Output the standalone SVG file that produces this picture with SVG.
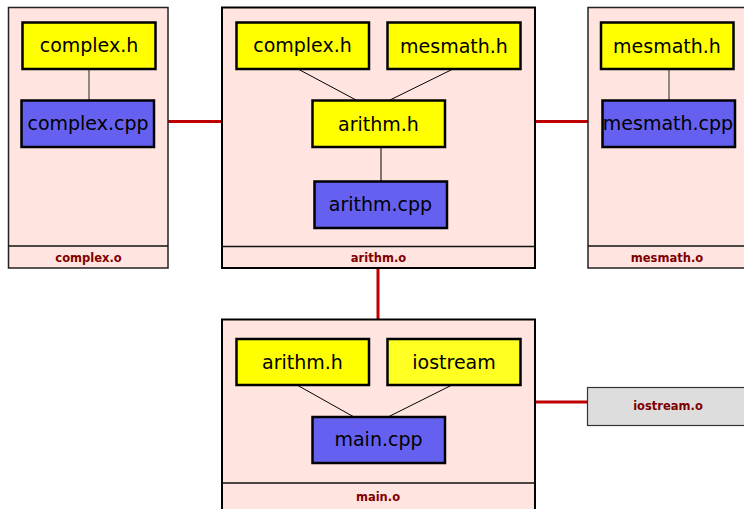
<svg xmlns="http://www.w3.org/2000/svg" width="744" height="509" viewBox="0 0 744 509">
<style>
.cl{fill:#ffe4e0;stroke:#222;stroke-width:1.5}
.clb{fill:#ffe4e0;stroke:#000;stroke-width:2}
.dv{stroke:#111;stroke-width:1.5}
.h{fill:#ffff00;stroke:#000;stroke-width:2.5}
.ios{fill:#ffff22;stroke:#000;stroke-width:2.5}
.cpp{fill:#6660f0;stroke:#000;stroke-width:2.5}
.t{font-family:"DejaVu Sans",sans-serif;font-size:19px;fill:#000;text-anchor:middle}
.lb{font-family:"DejaVu Sans",sans-serif;font-weight:bold;font-size:11.5px;fill:#800000;text-anchor:middle}
.e{stroke:#000;stroke-width:1;fill:none}
.eg{stroke:#555;stroke-width:1.3;fill:none}
.r{stroke:#c00000;stroke-width:3;fill:none}
</style>
<g id="connectors">
<line class="r" x1="168" y1="121.5" x2="222" y2="121.5"/>
<line class="r" x1="535" y1="121.5" x2="588" y2="121.5"/>
<line class="r" x1="378" y1="268" x2="378" y2="319"/>
<line class="r" x1="535" y1="402" x2="587" y2="402"/>
</g>
<g id="complex.o">
<rect class="cl" x="8.5" y="7.5" width="159.5" height="260.5"/>
<line class="dv" x1="8.5" y1="246" x2="168" y2="246"/>
<text class="lb" x="88.5" y="262">complex.o</text>
<line class="eg" x1="89" y1="69" x2="89" y2="100"/>
<g id="complex.o-complex.h"><rect class="h" x="22.5" y="22.5" width="133" height="46.5"/><text class="t" x="89" y="51.5">complex.h</text></g>
<g id="complex.o-complex.cpp"><rect class="cpp" x="21.5" y="100.5" width="132.5" height="46.5"/><text class="t" x="88" y="130">complex.cpp</text></g>
</g>
<g id="arithm.o">
<rect class="clb" x="222" y="7.5" width="313" height="260.5"/>
<line class="dv" x1="222" y1="246.5" x2="535" y2="246.5"/>
<text class="lb" x="378.5" y="262">arithm.o</text>
<line class="e" x1="298" y1="69" x2="356" y2="100"/>
<line class="e" x1="453" y1="69" x2="390" y2="100"/>
<line class="e" x1="381" y1="147" x2="381" y2="181"/>
<g id="arithm.o-complex.h"><rect class="h" x="236.5" y="22.5" width="132.5" height="46.5"/><text class="t" x="302.5" y="51.5">complex.h</text></g>
<g id="arithm.o-mesmath.h"><rect class="h" x="387.5" y="22.5" width="133" height="46.5"/><text class="t" x="454" y="53">mesmath.h</text></g>
<g id="arithm.o-arithm.h"><rect class="h" x="312.5" y="100.5" width="132.5" height="46.5"/><text class="t" x="378.5" y="131">arithm.h</text></g>
<g id="arithm.o-arithm.cpp"><rect class="cpp" x="314.5" y="181.5" width="132.5" height="46.5"/><text class="t" x="380.5" y="211">arithm.cpp</text></g>
</g>
<g id="mesmath.o">
<rect class="cl" x="588" y="7.5" width="170" height="260.5"/>
<line class="dv" x1="588" y1="246" x2="744" y2="246"/>
<text class="lb" x="667" y="262">mesmath.o</text>
<line class="eg" x1="669" y1="69" x2="669" y2="100"/>
<g id="mesmath.o-mesmath.h"><rect class="h" x="601" y="22.5" width="132.5" height="46.5"/><text class="t" x="667" y="53">mesmath.h</text></g>
<g id="mesmath.o-mesmath.cpp"><rect class="cpp" x="602.5" y="100.5" width="132.5" height="46.5"/><text class="t" x="668" y="130">mesmath.cpp</text></g>
</g>
<g id="main.o">
<rect class="clb" x="222" y="319.5" width="313" height="200"/>
<line class="dv" x1="222" y1="483" x2="535" y2="483"/>
<text class="lb" x="378" y="501">main.o</text>
<line class="e" x1="297" y1="385" x2="354" y2="417"/>
<line class="e" x1="452" y1="385" x2="388" y2="417"/>
<g id="main.o-arithm.h"><rect class="h" x="236.5" y="339" width="132.5" height="46"/><text class="t" x="302.5" y="369">arithm.h</text></g>
<g id="main.o-iostream"><rect class="ios" x="387.5" y="339" width="133" height="46"/><text class="t" x="454" y="369">iostream</text></g>
<g id="main.o-main.cpp"><rect class="cpp" x="312.5" y="417" width="132.5" height="46"/><text class="t" x="378.5" y="446">main.cpp</text></g>
</g>
<g id="iostream.o">
<rect x="587.5" y="387.5" width="170" height="38" fill="#dddddd" stroke="#333" stroke-width="1.2"/>
<text class="lb" x="668" y="410">iostream.o</text>
</g>
</svg>
